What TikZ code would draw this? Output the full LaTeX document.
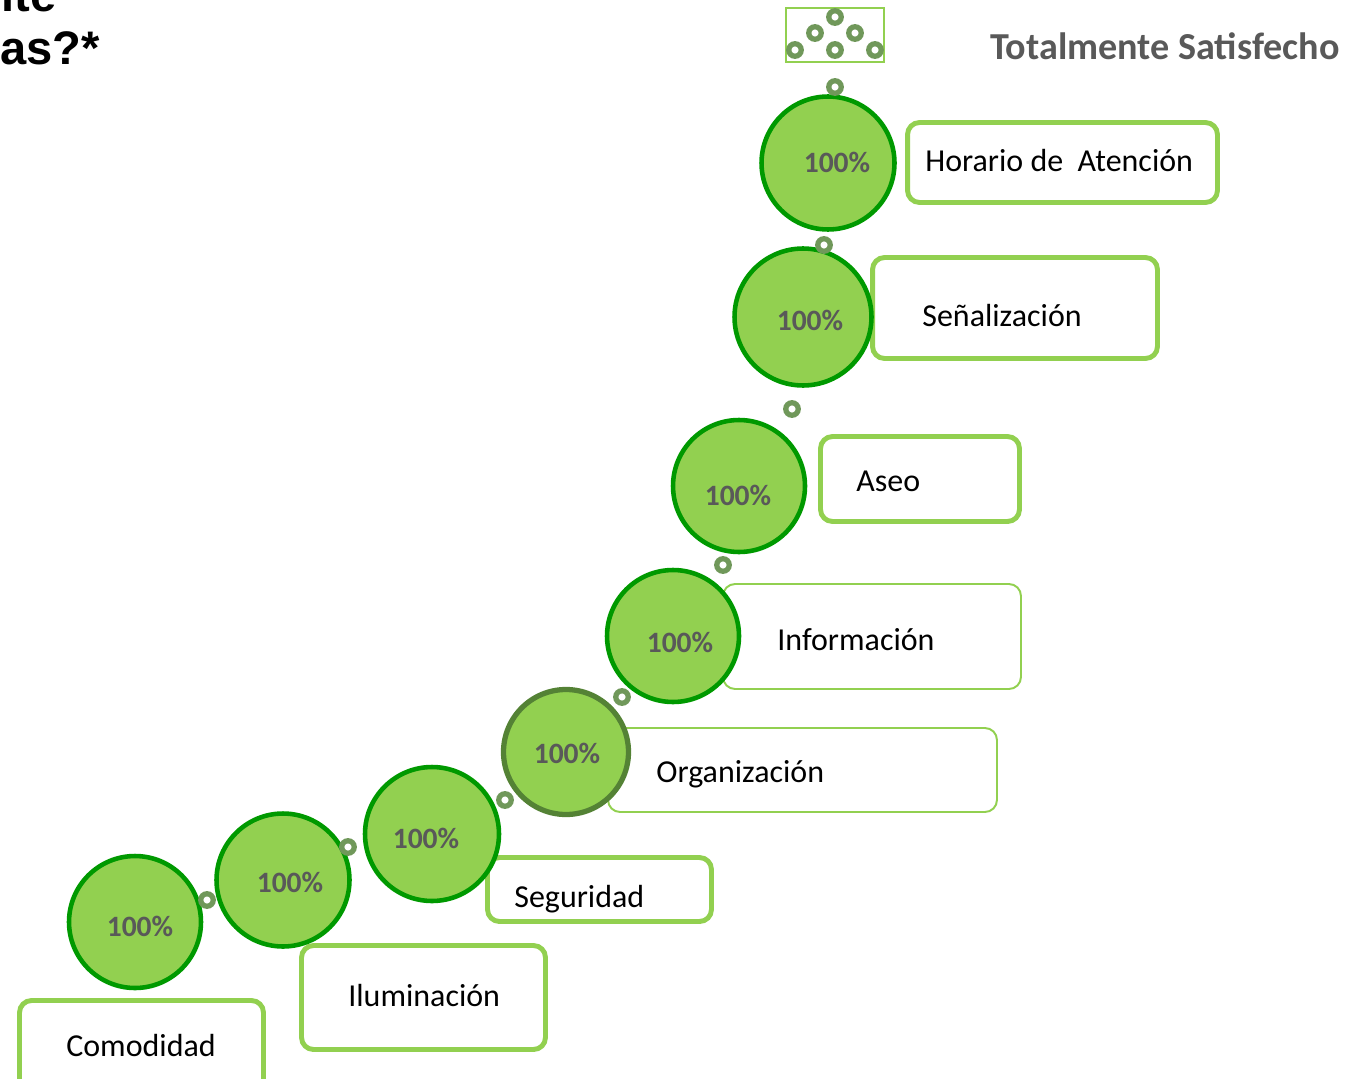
\documentclass[tikz,border=0pt]{standalone}
\usepackage{fontspec}
\setmainfont{Carlito}
\newfontfamily\headfont{Liberation Sans}
\definecolor{leaf}{HTML}{92D050}
\definecolor{rim}{HTML}{009900}
\definecolor{moss}{HTML}{548235}
\definecolor{beadgreen}{HTML}{70985A}
\definecolor{ink}{HTML}{595959}
\begin{document}
\begin{tikzpicture}[x=0.02cm,y=-0.02cm,line cap=round,
    disc/.style={circle,fill=leaf,draw=rim,line width=2.6pt,inner sep=0pt},
    bead/.style={circle,draw=beadgreen,fill=white,line width=3pt,minimum size=0.25cm,inner sep=0pt},
    tag/.style={rounded corners=0.24cm,draw=leaf,fill=white,line width=2.8pt,inner sep=0pt},
    thintag/.style={tag,line width=1.1pt},
    pct/.style={anchor=base,inner sep=0pt,font=\fontsize{16.8}{18}\selectfont\bfseries,text=ink},
    lbl/.style={anchor=base west,inner sep=0pt,font=\fontsize{18.2}{20}\selectfont}]
    \useasboundingbox (0,0) rectangle (1355,1078);
    % question, cut at the page edge
    \node[anchor=base east,inner sep=0pt,font=\headfont\fontsize{26.8}{30}\selectfont\bfseries] (qa) at (57,12) {ite};
    \node[anchor=base east,inner sep=0pt,font=\headfont\fontsize{26.8}{30}\selectfont\bfseries] (qb) at (100,65) {as?*};
    % legend
    \node[draw=leaf,line width=1.1pt,minimum width=1.96cm,minimum height=1.08cm,inner sep=0pt] (legend) at (835,35) {};
    \node[bead] (l1) at (795,50) {}; \node[bead] (l2) at (815,33) {}; \node[bead] (l3) at (835,17) {};
    \node[bead] (l4) at (855,33) {}; \node[bead] (l5) at (875,50) {}; \node[bead] (l6) at (835,50) {};
    \node[anchor=base west,inner sep=0pt,font=\fontsize{21.7}{24}\selectfont\bfseries,text=ink] (head) at (990,60) {Totalmente Satisfecho};
    % boxes
    \node[tag,minimum width=4.88cm,minimum height=1.82cm] (bcom) at (141.5,1046) {};
    \node[tag,minimum width=4.88cm,minimum height=2.08cm] (bilu) at (423.5,997.5) {};
    \node[tag,minimum width=4.48cm,minimum height=1.28cm] (bseg) at (599.5,889.5) {};
    \node[thintag,minimum width=7.78cm,minimum height=1.68cm] (borg) at (802.5,770) {};
    \node[thintag,minimum width=5.96cm,minimum height=2.1cm] (binf) at (872,636.5) {};
    \node[tag,minimum width=3.98cm,minimum height=1.7cm] (base) at (920,479) {};
    \node[tag,minimum width=5.7cm,minimum height=2.02cm] (bsen) at (1015,308) {};
    \node[tag,minimum width=6.2cm,minimum height=1.6cm] (bhor) at (1062.5,162.5) {};
    % discs
    \node[disc,minimum size=2.64cm] (c1) at (135,922) {};
    \node[disc,minimum size=2.66cm] (c2) at (283,880) {};
    \node[disc,minimum size=2.68cm] (c3) at (432,834) {};
    \node[disc,draw=moss,line width=3pt,minimum size=2.5cm] (c4) at (566,752) {};
    \node[disc,minimum size=2.64cm] (c5) at (673,636) {};
    \node[disc,minimum size=2.64cm] (c6) at (739,486) {};
    \node[disc,minimum size=2.74cm] (c7) at (803,317) {};
    \node[disc,minimum size=2.66cm] (c8) at (828,163) {};
    % beads between discs
    \node[bead] (r1) at (207,900) {}; \node[bead] (r2) at (348,847) {};
    \node[bead] (r3) at (505,800) {}; \node[bead] (r4) at (622,697) {};
    \node[bead] (r5) at (723,565) {}; \node[bead] (r6) at (792,409) {};
    \node[bead] (r7) at (824,245) {}; \node[bead] (r8) at (835,87) {};
    % values
    \node[pct] (p1) at (140,936) {100\%};
    \node[pct] (p2) at (290,892) {100\%};
    \node[pct] (p3) at (426,848) {100\%};
    \node[pct] (p4) at (567,763) {100\%};
    \node[pct] (p5) at (680,652) {100\%};
    \node[pct] (p6) at (738,505) {100\%};
    \node[pct] (p7) at (810,330) {100\%};
    \node[pct] (p8) at (837,172) {100\%};
    % labels
    \node[lbl] (tcom) at (66,1056) {Comodidad};
    \node[lbl] (tilu) at (348,1006) {Iluminación};
    \node[lbl] (tseg) at (514,907) {Seguridad};
    \node[lbl] (torg) at (656,782) {Organización};
    \node[lbl] (tinf) at (777,650) {Información};
    \node[lbl] (tase) at (856,491) {Aseo};
    \node[lbl] (tsen) at (922,326) {Señalización};
    \node[lbl] (thor) at (925,171) {Horario de \ Atención};
  \end{tikzpicture}
\end{document}
